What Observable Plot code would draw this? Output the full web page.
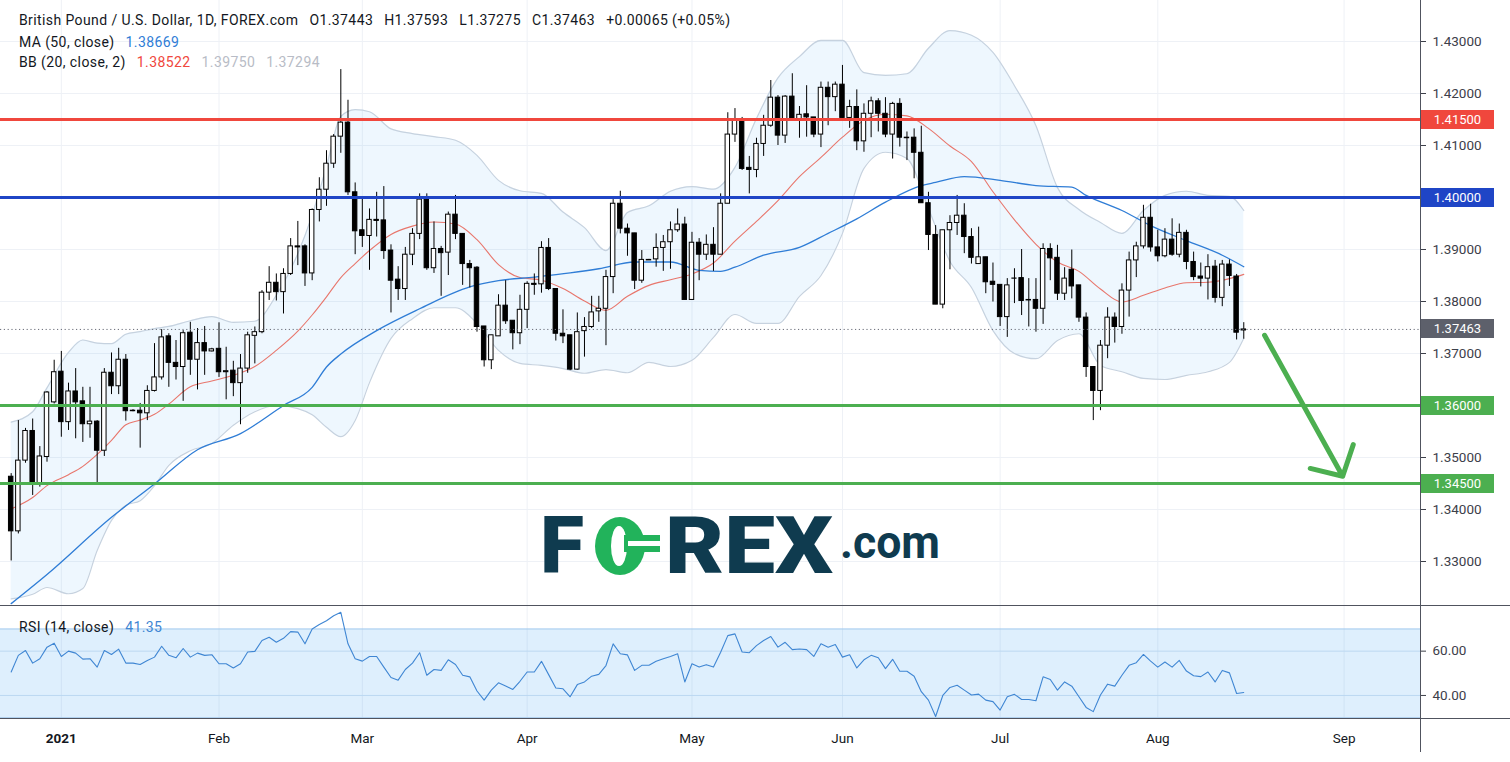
<!DOCTYPE html>
<html>
<head>
<meta charset="utf-8">
<script src="https://cdn.jsdelivr.net/npm/d3@7"></script>
<script src="https://cdn.jsdelivr.net/npm/@observablehq/plot@0.6"></script>
<style>
html,body{margin:0;padding:0;background:#fff;}
#chart{position:relative;width:1510px;height:762px;overflow:hidden;background:#fff;font-family:Roboto,"DejaVu Sans",sans-serif;}
#chart > svg{position:absolute;left:0;}
.lg{position:absolute;font-size:14px;letter-spacing:0.4px;line-height:18px;color:#131722;white-space:nowrap;}
.lg span{margin-left:11px;}
.box{position:absolute;left:1421px;width:73px;height:19px;line-height:19px;color:#fff;font-size:13px;text-align:center;}
.sep{position:absolute;background:#50535e;}
</style>
</head>
<body>
<div id="chart"></div>
<script>
// ---------------- DATA ----------------
const opens = [
1.3463,1.3358,1.3494,1.3551,1.3451,1.3501,1.3606,1.3665,1.3568,1.3627,
1.3608,1.3564,1.3569,1.3513,1.3663,1.3637,1.3688,1.3590,1.3590,1.3585,
1.3628,1.3654,1.3733,1.3682,1.3674,1.3740,1.3688,1.3720,1.3704,1.3709,
1.3664,1.3667,1.3643,1.3671,1.3734,1.3741,1.3817,1.3836,1.3818,1.3853,
1.3906,1.3906,1.3854,1.3976,1.4015,1.4065,1.4117,1.4144,1.4010,1.3937,
1.3926,1.3957,1.3956,1.3898,1.3842,1.3824,1.3890,1.3930,1.3996,1.3864,
1.3901,1.3894,1.3967,1.3930,1.3872,1.3865,1.3752,1.3687,1.3733,1.3792,
1.3763,1.3739,1.3784,1.3834,1.3833,1.3903,1.3824,1.3738,1.3735,1.3669,
1.3743,1.3751,1.3781,1.3786,1.3847,1.3988,1.3940,1.3931,1.3840,1.3880,
1.3881,1.3903,1.3914,1.3937,1.3948,1.3803,1.3913,1.3890,1.3909,1.3890,
1.3988,1.4121,1.4148,1.4057,1.4053,1.4103,1.4138,1.4192,1.4119,1.4194,
1.4151,1.4160,1.4154,1.4121,1.4211,1.4193,1.4217,1.4153,1.4174,1.4108,
1.4161,1.4185,1.4161,1.4121,1.4180,1.4115,1.4115,1.4086,1.3989,1.3928,
1.3794,1.3937,1.3951,1.3965,1.3924,1.3872,1.3885,1.3838,1.3832,1.3770,
1.3845,1.3845,1.3803,1.3803,1.3786,1.3901,1.3884,1.3815,1.3861,1.3831,
1.3769,1.3674,1.3628,1.3715,1.3769,1.3751,1.3821,1.3879,1.3906,1.3961,
1.3904,1.3887,1.3919,1.3890,1.3932,1.3876,1.3848,1.3844,1.3867,1.3807,
1.3871,1.3848,1.37443];
const highs = [
1.3469,1.3571,1.3556,1.3574,1.3521,1.3627,1.3687,1.3704,1.3643,1.3671,
1.3635,1.3635,1.3571,1.3671,1.3701,1.3710,1.3698,1.3592,1.3604,1.3638,
1.3719,1.3746,1.3738,1.3725,1.3744,1.3760,1.3748,1.3752,1.3710,1.3759,
1.3712,1.3685,1.3698,1.3741,1.3751,1.3821,1.3867,1.3853,1.3863,1.3921,
1.3954,1.3909,1.3978,1.4038,1.4090,1.4121,1.4246,1.4187,1.4028,1.4001,
1.3978,1.4010,1.4021,1.3909,1.3867,1.3904,1.3940,1.4007,1.4007,1.3953,
1.3906,1.3972,1.4004,1.3930,1.3879,1.3867,1.3752,1.3735,1.3813,1.3840,
1.3763,1.3812,1.3838,1.3853,1.3915,1.3921,1.3824,1.3784,1.3735,1.3778,
1.3769,1.3810,1.3810,1.3860,1.3996,1.4012,1.3949,1.3931,1.3898,1.3881,
1.3930,1.3927,1.3953,1.3978,1.3962,1.3933,1.3921,1.3928,1.3942,1.4007,
1.4163,1.4171,1.4154,1.4079,1.4114,1.4158,1.4225,1.4196,1.4196,1.4238,
1.4175,1.4215,1.4154,1.4222,1.4222,1.4222,1.4254,1.4187,1.4207,1.4180,
1.4193,1.4190,1.4192,1.4183,1.4190,1.4126,1.4132,1.4137,1.4010,1.3946,
1.3937,1.3965,1.4004,1.3988,1.3940,1.3943,1.3885,1.3874,1.3832,1.3844,
1.3863,1.3900,1.3844,1.3844,1.3911,1.3911,1.3908,1.3865,1.3899,1.3831,
1.3778,1.3674,1.3725,1.3788,1.3778,1.3834,1.3895,1.3914,1.3985,1.3987,
1.3937,1.3940,1.3959,1.3949,1.3937,1.3895,1.3874,1.3890,1.3879,1.3879,
1.3880,1.3852,1.37593];
const lows = [
1.3301,1.3353,1.3489,1.3427,1.3443,1.3491,1.3603,1.3539,1.3552,1.3536,
1.3529,1.3537,1.3448,1.3502,1.3621,1.3621,1.3570,1.3588,1.3518,1.3571,
1.3626,1.3649,1.3635,1.3649,1.3608,1.3658,1.3630,1.3658,1.3703,1.3654,
1.3611,1.3617,1.3563,1.3662,1.3680,1.3738,1.3802,1.3801,1.3776,1.3850,
1.3869,1.3829,1.3840,1.3953,1.3983,1.4056,1.4085,1.4004,1.3890,1.3904,
1.3860,1.3924,1.3881,1.3778,1.3802,1.3802,1.3869,1.3919,1.3860,1.3854,
1.3810,1.3850,1.3919,1.3831,1.3826,1.3741,1.3674,1.3669,1.3733,1.3756,
1.3707,1.3717,1.3748,1.3812,1.3816,1.3821,1.3724,1.3719,1.3667,1.3668,
1.3693,1.3748,1.3760,1.3715,1.3815,1.3930,1.3887,1.3823,1.3835,1.3879,
1.3866,1.3858,1.3862,1.3933,1.3803,1.3802,1.3840,1.3879,1.3858,1.3890,
1.3988,1.4106,1.4052,1.4007,1.4038,1.4079,1.4135,1.4100,1.4104,1.4150,
1.4114,1.4116,1.4115,1.4096,1.4138,1.4165,1.4149,1.4133,1.4090,1.4087,
1.4115,1.4126,1.4115,1.4074,1.4097,1.4071,1.4036,1.3989,1.3898,1.3794,
1.3786,1.3861,1.3927,1.3892,1.3872,1.3872,1.3815,1.3799,1.3752,1.3731,
1.3796,1.3773,1.3751,1.3741,1.3756,1.3840,1.3802,1.3802,1.3805,1.3760,
1.3654,1.3571,1.3590,1.3690,1.3720,1.3737,1.3770,1.3846,1.3901,1.3895,
1.3876,1.3884,1.3887,1.3884,1.3861,1.3840,1.3828,1.3803,1.3797,1.3790,
1.3829,1.3726,1.37275];
const closes = [
1.3358,1.3494,1.3551,1.3451,1.3502,1.3625,1.3664,1.3568,1.3627,1.3606,
1.3564,1.3569,1.3513,1.3663,1.3637,1.3688,1.3589,1.3589,1.3585,1.3628,
1.3654,1.3731,1.3682,1.3674,1.3739,1.3688,1.3720,1.3704,1.3708,1.3664,
1.3666,1.3643,1.3671,1.3735,1.3741,1.3817,1.3836,1.3818,1.3853,1.3906,
1.3904,1.3854,1.3976,1.4015,1.4065,1.4117,1.4144,1.4010,1.3935,1.3926,
1.3957,1.3955,1.3897,1.3840,1.3824,1.3890,1.3930,1.3996,1.3864,1.3901,
1.3893,1.3967,1.3930,1.3872,1.3864,1.3751,1.3687,1.3735,1.3792,1.3762,
1.3739,1.3784,1.3834,1.3832,1.3903,1.3824,1.3738,1.3733,1.3669,1.3741,
1.3751,1.3779,1.3786,1.3847,1.3988,1.3940,1.3931,1.3840,1.3880,1.3879,
1.3903,1.3914,1.3937,1.3948,1.3803,1.3913,1.3890,1.3909,1.3890,1.3988,
1.4121,1.4148,1.4055,1.4053,1.4103,1.4138,1.4192,1.4119,1.4194,1.4150,
1.4159,1.4154,1.4121,1.4211,1.4193,1.4217,1.4153,1.4174,1.4108,1.4161,
1.4185,1.4161,1.4121,1.4180,1.4115,1.4114,1.4086,1.3989,1.3928,1.3794,
1.3937,1.3951,1.3965,1.3924,1.3884,1.3885,1.3837,1.3832,1.3770,1.3831,
1.3845,1.3801,1.3802,1.3786,1.3901,1.3883,1.3815,1.3844,1.3829,1.3769,
1.3674,1.3628,1.3715,1.3769,1.3751,1.3821,1.3879,1.3906,1.3961,1.3904,
1.3887,1.3919,1.3890,1.3932,1.3876,1.3847,1.3844,1.3866,1.3807,1.3871,
1.3849,1.3740,1.37463];

const maIdx = [0,5,14,20,26,32,38,42,44,46,51,57,64,68,73,78,82,87,92,96,99,101,105,110,114,118,122,127,129,133,138,143,148,150,155,159,164,169,172];
const maVal = [1.3219,1.3275,1.3385,1.3449,1.3515,1.3546,1.3600,1.3635,1.3674,1.3699,1.3744,1.3786,1.3828,1.3840,1.3847,1.3855,1.3863,1.3876,1.3876,1.3860,1.3858,1.3866,1.3889,1.3904,1.3931,1.3959,1.3991,1.4023,1.4029,1.4040,1.4033,1.4023,1.4020,1.4004,1.3975,1.3946,1.3917,1.3889,1.38669];

const bbIdx = [0,3,5,8,10,12,14,16,18,20,22,25,28,31,34,37,40,42,44,46,48,50,53,56,59,62,65,68,71,74,77,80,83,86,89,92,95,98,101,104,107,110,113,116,119,122,125,128,131,134,137,140,143,146,149,152,155,158,161,164,167,170,172];
const bbBasis = [1.3401,1.3423,1.3446,1.3467,1.3483,1.3506,1.3533,1.3563,1.3572,1.3583,1.3603,1.3636,1.3647,1.3658,1.3675,1.3706,1.3743,1.3774,1.3809,1.3846,1.3873,1.3898,1.3929,1.3945,1.3953,1.3949,1.3919,1.3871,1.3846,1.3841,1.3825,1.3801,1.3783,1.3810,1.3831,1.3842,1.3853,1.3874,1.3916,1.3954,1.3994,1.4040,1.4077,1.4116,1.4148,1.4160,1.4157,1.4133,1.4099,1.4069,1.4011,1.3957,1.3910,1.3876,1.3858,1.3824,1.3799,1.3812,1.3826,1.3836,1.3837,1.3844,1.38522];
const bbUpper = [1.3568,1.3588,1.3634,1.3702,1.3726,1.3720,1.3719,1.3737,1.3742,1.3748,1.3752,1.3763,1.3771,1.3760,1.3762,1.3812,1.3892,1.3966,1.4060,1.4156,1.4169,1.4165,1.4132,1.4123,1.4117,1.4110,1.4081,1.4033,1.4013,1.4008,1.3972,1.3942,1.3898,1.3971,1.3984,1.4012,1.4021,1.4016,1.4058,1.4152,1.4230,1.4271,1.4302,1.4302,1.4240,1.4235,1.4238,1.4287,1.4321,1.4312,1.4279,1.4215,1.4138,1.4019,1.3977,1.3952,1.3931,1.3975,1.4004,1.4012,1.4004,1.4002,1.39750];
const bbLower = [1.3228,1.3237,1.3250,1.3238,1.3248,1.3321,1.3379,1.3408,1.3417,1.3446,1.3485,1.3513,1.3527,1.3562,1.3588,1.3600,1.3594,1.3582,1.3558,1.3540,1.3571,1.3644,1.3729,1.3767,1.3788,1.3788,1.3758,1.3706,1.3681,1.3677,1.3671,1.3662,1.3669,1.3663,1.3683,1.3675,1.3687,1.3731,1.3775,1.3758,1.3758,1.3810,1.3850,1.3931,1.4056,1.4087,1.4075,1.3979,1.3877,1.3827,1.3744,1.3700,1.3690,1.3725,1.3738,1.3677,1.3665,1.3652,1.3650,1.3658,1.3665,1.3683,1.37294];

// RSI (14) per bar
const rsi = [
50.6,58.1,60.3,54.6,56.6,61.8,63.6,57.6,60.0,59.1,
56.4,56.6,52.8,60.3,58.5,60.9,54.6,54.6,54.0,55.8,
57.3,62.2,58.1,57.0,61.2,57.3,59.1,58.1,58.4,54.3,
54.3,52.4,54.3,59.6,59.9,64.8,66.3,64.0,65.8,68.8,
68.6,63.3,70.0,72.0,73.7,76.0,77.5,63.3,56.6,55.5,
57.6,57.6,52.8,48.1,46.9,51.7,54.6,59.3,49.1,51.7,
51.3,56.1,54.0,49.1,48.4,42.0,37.9,42.4,45.7,44.3,
42.7,46.4,50.6,50.6,55.4,49.4,43.4,43.0,39.4,44.9,
46.1,48.7,49.5,53.5,63.3,58.8,58.3,51.3,53.6,53.6,
55.4,56.6,57.6,58.8,46.1,54.3,52.8,53.9,52.8,59.5,
67.0,67.8,59.6,59.3,62.5,64.8,66.6,61.8,64.0,60.7,
61.0,60.7,57.6,63.3,61.8,63.0,57.3,58.4,52.4,56.1,
58.1,57.0,52.1,56.3,50.9,50.9,48.7,41.7,37.9,30.5,
40.0,43.6,44.6,42.4,40.2,40.6,37.9,37.2,33.4,39.4,
40.5,38.2,38.2,37.6,48.4,47.2,42.4,46.1,44.2,39.4,
34.6,32.7,40.2,45.1,44.2,49.1,53.6,54.8,58.5,55.5,
52.8,55.1,52.8,55.8,51.0,48.9,48.5,50.6,46.1,51.3,
50.2,40.9,41.35];

// Axis / annotation values
const monthIdx = [7,29,49,72,95,116,138,160,186];
const monthLabels = ["2021","Feb","Mar","Apr","May","Jun","Jul","Aug","Sep"];
const priceTicks = [1.33,1.34,1.35,1.36,1.37,1.38,1.39,1.40,1.41,1.42,1.43];
const rsiTicks = [60,40];
const rsiBandLevels = [70,30];
const rsiGridLevels = [60,40];
const levelPrices = [1.415,1.40,1.36,1.345];
const lastPrice = 1.37463;
const arrowFrom = {i:174.9, p:1.3735};
const arrowTo = {i:185.8, p:1.3464};

// ---------------- STYLES ----------------
const levelColors = ["#f0473d","#1f45c6","#4caf50","#4caf50"];
const FONT = "Roboto, 'DejaVu Sans', sans-serif";
const GRID = "#eef1f6";

// ---------------- BUILD ----------------
const chart = document.getElementById("chart");
const W = 1510, RIGHT = 90, MAIN_H = 606;
const xDomain = [-1.49, 196.66];
const yDomain = [1.437885 - MAIN_H/5200, 1.437885];

const candles = closes.map((c,i)=>({i, o:opens[i], h:highs[i], l:lows[i], c}));
const upC = candles.filter(d=>d.c>=d.o), dnC = candles.filter(d=>d.c<d.o);
const flat = candles.filter(d=>Math.abs(d.c-d.o)<0.00006);
const bb = bbIdx.map((i,k)=>({i, up:bbUpper[k], mid:bbBasis[k], lo:bbLower[k]}));
const ma = maIdx.map((i,k)=>({i, v:maVal[k]}));
const HW = 0.31;

const main = Plot.plot({
  width: W, height: MAIN_H, marginLeft: 0, marginRight: RIGHT, marginTop: 0, marginBottom: 0,
  x: {domain: xDomain, axis: null},
  y: {domain: yDomain, axis: null},
  style: {background: "transparent", fontFamily: FONT, fontSize: "13.5px", color: "#3d404a"},
  marks: [
    Plot.ruleY(priceTicks, {stroke: GRID}),
    Plot.ruleX(monthIdx, {stroke: GRID}),
    Plot.areaY(bb, {x: "i", y1: "lo", y2: "up", curve: "monotone-x", fill: "#2196f3", fillOpacity: 0.08}),
    Plot.line(bb, {x: "i", y: "up", curve: "monotone-x", stroke: "#c6d2df", strokeWidth: 1.2}),
    Plot.line(bb, {x: "i", y: "lo", curve: "monotone-x", stroke: "#c6d2df", strokeWidth: 1.2}),
    Plot.line(bb, {x: "i", y: "mid", curve: "monotone-x", stroke: "#e8766c", strokeWidth: 1.1}),
    Plot.line(ma, {x: "i", y: "v", curve: "monotone-x", stroke: "#2f7dd6", strokeWidth: 1.3}),
    Plot.ruleX(candles, {x: "i", y1: "l", y2: "h", stroke: "#000", strokeWidth: 1}),
    Plot.rect(upC, {x1: d=>d.i-HW, x2: d=>d.i+HW, y1: "o", y2: "c", fill: "#fff", stroke: "#000", strokeWidth: 1}),
    Plot.rect(dnC, {x1: d=>d.i-HW, x2: d=>d.i+HW, y1: "o", y2: "c", fill: "#000", stroke: "#000", strokeWidth: 1}),
    Plot.ruleY(flat, {y: "c", x1: d=>d.i-HW-0.05, x2: d=>d.i+HW+0.05, stroke: "#000", strokeWidth: 1.2}),
    ...levelPrices.map((v,k)=>Plot.ruleY([v], {stroke: levelColors[k], strokeWidth: 3})),
    Plot.ruleY([lastPrice], {stroke: "#6a6d78", strokeDasharray: "1.2,2.6"}),
    Plot.arrow([{a: arrowFrom, b: arrowTo}], {x1: d=>d.a.i, y1: d=>d.a.p, x2: d=>d.b.i, y2: d=>d.b.p,
      stroke: "#4caf50", strokeWidth: 5, headLength: 10, headAngle: 95}),
    Plot.axisY({ticks: priceTicks, anchor: "right", tickFormat: d=>d.toFixed(5), tickSize: 5, tickPadding: 7, label: null})
  ]
});
main.style.top = "0px";
chart.appendChild(main);

const rsiRows = rsi.map((v,i)=>({i, v}));
const monthRows = monthIdx.map((i,k)=>({i, label: monthLabels[k]}));
const rsiPlot = Plot.plot({
  width: W, height: 157, marginLeft: 0, marginRight: RIGHT, marginTop: 0, marginBottom: 44,
  x: {domain: xDomain, axis: null},
  y: {domain: [29.6, 80.6], axis: null},
  style: {background: "transparent", fontFamily: FONT, fontSize: "13.5px", color: "#3d404a"},
  marks: [
    Plot.ruleX(monthIdx, {stroke: GRID}),
    Plot.rect([{lo: rsiBandLevels[1], hi: rsiBandLevels[0]}], {x1: ()=>xDomain[0], x2: ()=>xDomain[1], y1: "lo", y2: "hi", fill: "#2196f3", fillOpacity: 0.15}),
    Plot.ruleY(rsiBandLevels, {stroke: "#a6cbed"}),
    Plot.ruleY(rsiGridLevels, {stroke: "#bcd8f2"}),
    Plot.line(rsiRows, {x: "i", y: "v", stroke: "#3f86d3", strokeWidth: 1.1}),
    Plot.axisY({ticks: rsiTicks, anchor: "right", tickFormat: d=>d.toFixed(2), tickSize: 5, tickPadding: 7, label: null}),
    Plot.text(monthRows.slice(0,1), {x: "i", text: "label", frameAnchor: "bottom", dy: 24, fontWeight: "bold", fill: "#131722"}),
    Plot.text(monthRows.slice(1), {x: "i", text: "label", frameAnchor: "bottom", dy: 24, fill: "#131722"})
  ]
});
rsiPlot.style.top = "605px";
chart.appendChild(rsiPlot);

// separators and axis line
function sep(l,t,w,h){const d=document.createElement("div");d.className="sep";Object.assign(d.style,{left:l+"px",top:t+"px",width:w+"px",height:h+"px"});chart.appendChild(d);}
sep(0,605,W,1); sep(0,718,W,1); sep(W-RIGHT,0,1,752);

// price boxes placed through the main y scale
const ys = main.scale("y");
function box(v, color){const d=document.createElement("div");d.className="box";d.textContent=v.toFixed(5);
  d.style.background=color;d.style.top=(ys.apply(v)-9.5)+"px";chart.appendChild(d);}
levelPrices.forEach((v,k)=>box(v, levelColors[k]));
box(lastPrice, "#5d606b");

// legend
function legend(top, parts){const d=document.createElement("div");d.className="lg";d.style.left="19px";d.style.top=top+"px";
  parts.forEach((p,k)=>{const s=document.createElement("span");s.textContent=p[0];if(p[1])s.style.color=p[1];if(k===0)s.style.marginLeft="0";d.appendChild(s);});
  chart.appendChild(d);}
legend(11, [["British Pound / U.S. Dollar, 1D, FOREX.com"],["O1.37443"],["H1.37593"],["L1.37275"],["C1.37463"],["+0.00065 (+0.05%)"]]);
legend(33, [["MA (50, close)"],["1.38669","#2f7dd6"]]);
legend(53, [["BB (20, close, 2)"],["1.38522","#f0473d"],["1.39750","#b8bcc6"],["1.37294","#b8bcc6"]]);
legend(618, [["RSI (14, close)"],["41.35","#3f86d3"]]);

// FOREX.com watermark logo
const NS="http://www.w3.org/2000/svg";
const logo=document.createElementNS(NS,"svg");
logo.setAttribute("width","440");logo.setAttribute("height","120");
logo.style.position="absolute";logo.style.left="520px";logo.style.top="485px";logo.style.overflow="visible";
const DARK="#0f3b4f", GREEN="#22b35b";
function el(tag, attrs, text){const e=document.createElementNS(NS,tag);for(const k in attrs)e.setAttribute(k,attrs[k]);if(text)e.textContent=text;logo.appendChild(e);return e;}
// local coords: x = page x - 520, y = page y - 485
el("text",{x:20,y:88,"font-size":80,"font-weight":900,"font-family":FONT,fill:DARK,textLength:44,lengthAdjust:"spacingAndGlyphs"},"F");
el("ellipse",{cx:100,cy:61,rx:25,ry:29,fill:GREEN});
el("ellipse",{cx:99,cy:61,rx:8,ry:20,fill:"#fff"});
el("rect",{x:106,y:56,width:36,height:5,fill:"#fff"});
el("rect",{x:105,y:50,width:35,height:6,fill:GREEN});
el("rect",{x:105,y:61,width:35,height:6,fill:GREEN});
el("rect",{x:104,y:50,width:4,height:17,fill:GREEN});
el("text",{x:145,y:88,"font-size":80,"font-weight":900,"font-family":FONT,fill:DARK,textLength:168,lengthAdjust:"spacingAndGlyphs"},"REX");
el("text",{x:320,y:73,"font-size":46,"font-weight":700,"font-family":FONT,fill:DARK,textLength:100,lengthAdjust:"spacingAndGlyphs"},".com");
chart.appendChild(logo);
</script>
</body>
</html>
